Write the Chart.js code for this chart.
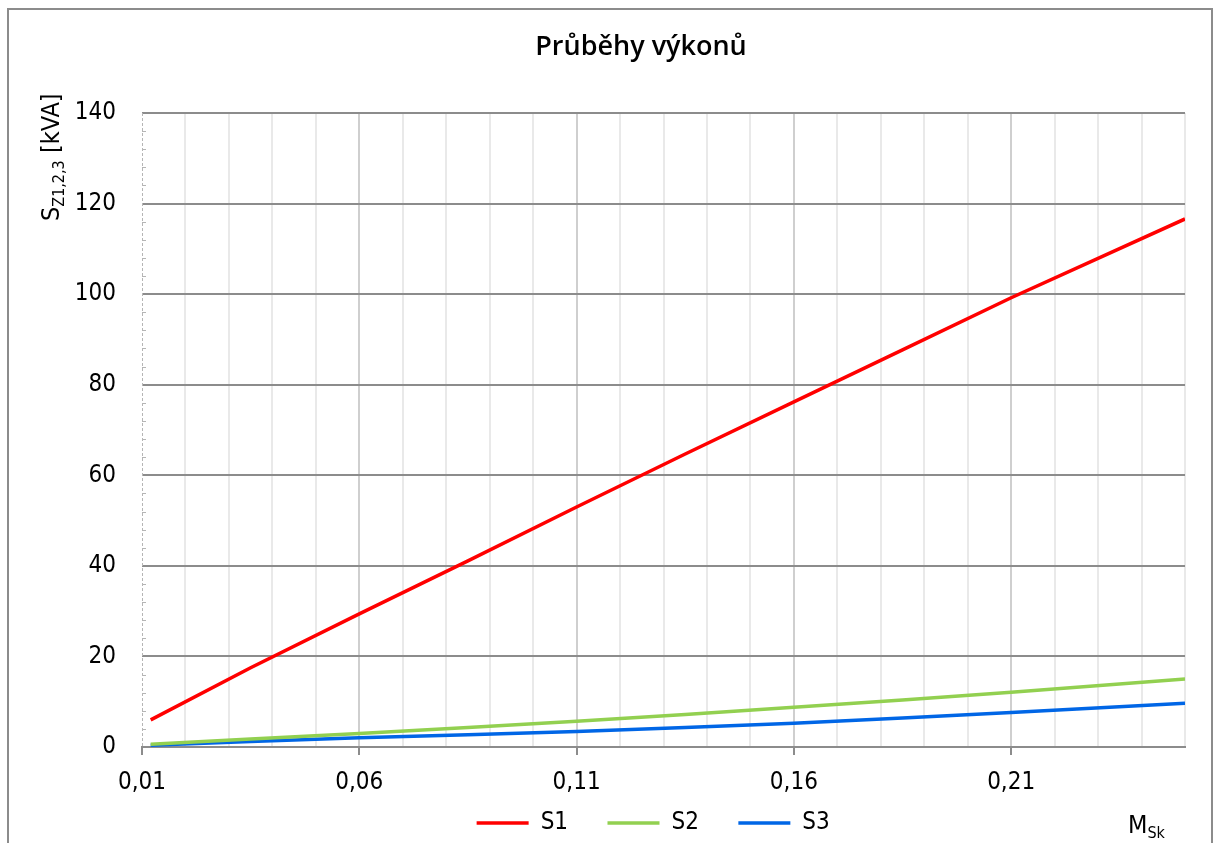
<!DOCTYPE html>
<html>
<head>
<meta charset="utf-8">
<script src="https://cdn.jsdelivr.net/npm/chart.js@4.4.1/dist/chart.umd.min.js"></script>
<style>
    html, body { margin: 0; padding: 0; background: #fff; overflow: hidden; }
    #wrap { position: absolute; left: 0; top: 0; width: 1215px; height: 845px; }
    #frame {
        position: absolute; left: 7px; top: 8px; width: 1206px; height: 900px;
        box-sizing: border-box; border: 2px solid #8c8c8c; pointer-events: none;
    }
</style>
</head>
<body>
<div id="wrap"><canvas id="powerChart"></canvas></div>
<div id="frame"></div>
<script>
const xValues = [0.012, 0.035, 0.06, 0.085, 0.11, 0.135, 0.16, 0.185, 0.21, 0.25];
// S1, S2, S3 [kVA]
const s1Values = [6.0, 17.5, 29.4, 41.1, 53.0, 64.7, 76.2, 87.7, 99.2, 116.6];
const s2Values = [0.6, 1.75, 3.0, 4.3, 5.7, 7.2, 8.8, 10.4, 12.1, 15.0];
const s3Values = [0.4, 1.2, 2.05, 2.7, 3.4, 4.3, 5.25, 6.4, 7.6, 9.65];

const seriesNames = ['S1', 'S2', 'S3'];
const seriesColors = ['#ff0000', '#92d050', '#0066e6'];
const legendGaps = ['    ', '    ', '   ']; // widen legend items like the original

const FONT = "'Liberation Sans Narrow', 'DejaVu Sans Condensed', sans-serif";
Chart.defaults.font.family = FONT;
Chart.defaults.color = '#000';

const toPoints = vals => vals.map((v, i) => ({ x: xValues[i], y: v }));
const isMajorX = v => (Math.round(v * 100) - 1) % 5 === 0;

// title, axis titles with subscripts, dashed value axis + its minor ticks
const extras = {
    id: 'extras',
    afterDraw(chart) {
        const { ctx, chartArea, scales } = chart;
        const y = scales.y;
        ctx.save();

        ctx.strokeStyle = '#b5b5b5';
        ctx.lineWidth = 1;
        ctx.setLineDash([3, 2]);
        ctx.beginPath();
        ctx.moveTo(chartArea.left + 0.5, chartArea.top);
        ctx.lineTo(chartArea.left + 0.5, chartArea.bottom);
        ctx.stroke();
        ctx.setLineDash([]);
        y.ticks.forEach(t => {
            if (t.value % 20 !== 0) {
                const py = Math.round(y.getPixelForValue(t.value)) + 0.5;
                ctx.beginPath();
                ctx.moveTo(chartArea.left, py);
                ctx.lineTo(chartArea.left + 4, py);
                ctx.stroke();
            }
        });

        ctx.fillStyle = '#000';
        ctx.textBaseline = 'alphabetic';

        // chart title
        ctx.textAlign = 'center';
        ctx.font = "600 27px 'Open Sans', sans-serif";
        ctx.fillText('Průběhy výkonů', 641, 55);
        ctx.textAlign = 'left';

        // y title, rotated
        ctx.save();
        ctx.translate(chartArea.left - 83, chartArea.top + 108);
        ctx.rotate(-Math.PI / 2);
        ctx.font = '25px ' + FONT;
        ctx.fillText('S', 0, 0);
        let w = ctx.measureText('S').width;
        ctx.font = '16px ' + FONT;
        ctx.fillText('Z1,2,3', w, 5);
        w += ctx.measureText('Z1,2,3').width;
        ctx.font = '25px ' + FONT;
        ctx.fillText(' [kVA]', w, 0);
        ctx.restore();

        // x title
        const bx = chartArea.right - 57, by = chartArea.bottom + 86;
        ctx.font = '25px ' + FONT;
        ctx.fillText('M', bx, by);
        const mw = ctx.measureText('M').width;
        ctx.font = '16px ' + FONT;
        ctx.fillText('Sk', bx + mw, by + 5);
        ctx.restore();
    }
};

new Chart(document.getElementById('powerChart'), {
    type: 'line',
    data: {
        datasets: [s1Values, s2Values, s3Values].map((vals, i) => ({
            label: seriesNames[i],
            data: toPoints(vals),
            borderColor: seriesColors[i],
            backgroundColor: seriesColors[i],
            borderWidth: 3.5,
            pointRadius: 0,
            tension: 0
        }))
    },
    options: {
        responsive: true,
        maintainAspectRatio: false,
        animation: false,
        layout: { padding: { left: 0, right: 30, top: 113, bottom: 0 } },
        plugins: {
            title: { display: false },
            legend: {
                position: 'bottom',
                fullSize: false,
                labels: {
                    usePointStyle: true,
                    pointStyle: 'line',
                    pointStyleWidth: 52,
                    padding: 12,
                    color: '#000',
                    font: { size: 24 },
                    generateLabels: chart =>
                        Chart.defaults.plugins.legend.labels.generateLabels(chart)
                            .map((item, i) => ({ ...item, text: item.text + legendGaps[i] }))
                }
            },
            tooltip: { enabled: false }
        },
        scales: {
            x: {
                type: 'linear',
                min: 0.01,
                max: 0.25,
                afterFit: s => { s.height = 52; },
                ticks: {
                    stepSize: 0.01,
                    autoSkip: false,
                    maxRotation: 0,
                    padding: 13,
                    color: '#000',
                    font: { size: 24 },
                    callback: v => isMajorX(v) ? v.toFixed(2).replace('.', ',') : ''
                },
                grid: {
                    color: c => {
                        if (!c.tick) return 'transparent';
                        if (Math.abs(c.tick.value - 0.01) < 1e-6) return 'transparent';
                        return isMajorX(c.tick.value) ? '#cfcfcf' : '#e9e9e9';
                    },
                    lineWidth: 2,
                    tickColor: c => c.tick && isMajorX(c.tick.value) ? '#8c8c8c' : 'transparent',
                    tickLength: 8,
                    tickWidth: 2
                },
                border: { color: '#8c8c8c', width: 2 }
            },
            y: {
                min: 0,
                max: 140,
                afterFit: s => { s.width = 142; },
                ticks: {
                    stepSize: 4,
                    autoSkip: false,
                    padding: 26,
                    color: '#000',
                    font: { size: 24 },
                    callback: v => v % 20 === 0 ? String(v) : ''
                },
                grid: {
                    color: c => c.tick && c.tick.value % 20 === 0 ? '#8c8c8c' : 'transparent',
                    lineWidth: 2,
                    drawTicks: false
                },
                border: { display: false }
            }
        }
    },
    plugins: [extras]
});
</script>
</body>
</html>
